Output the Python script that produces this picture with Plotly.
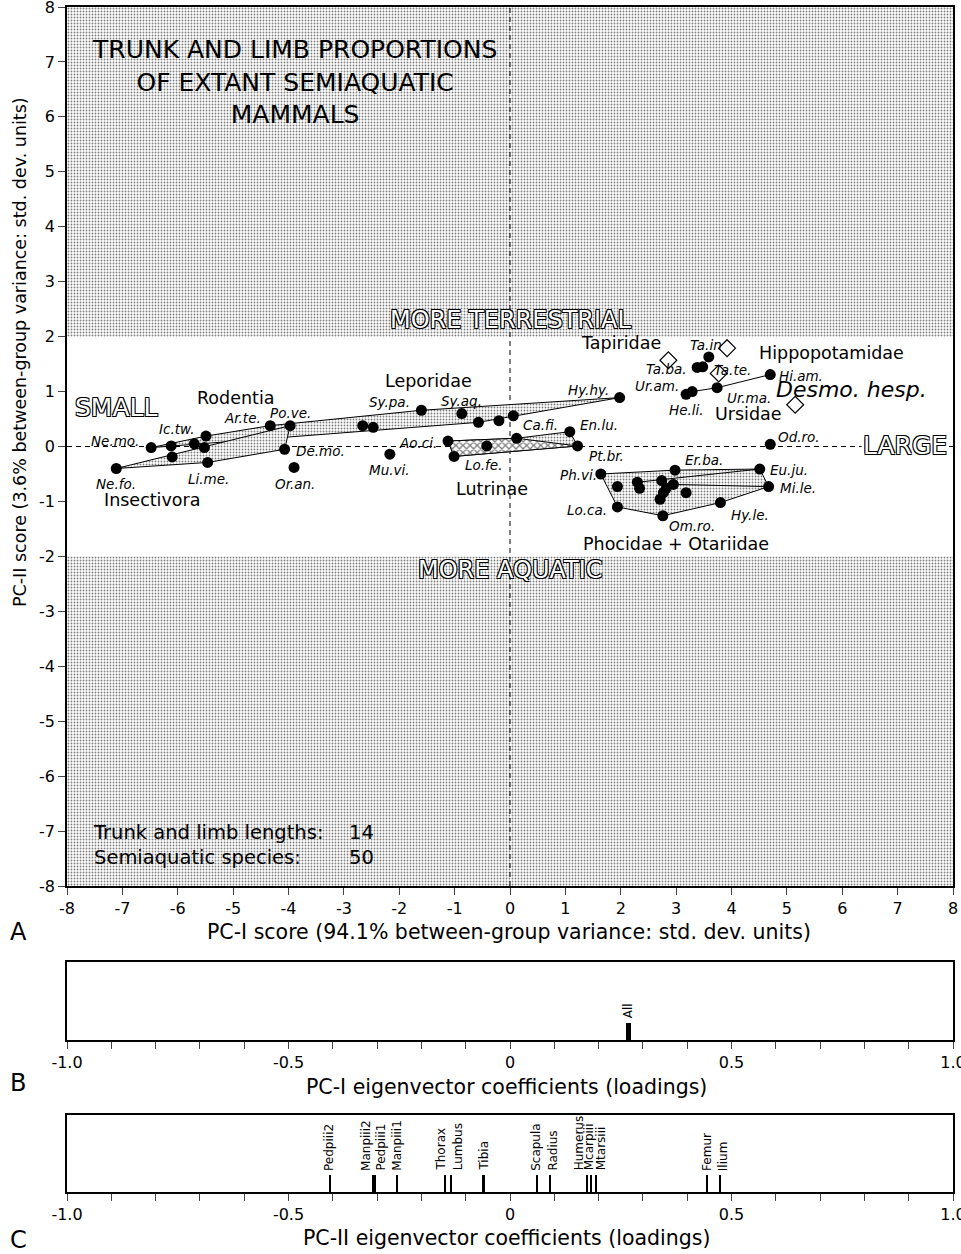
import plotly.graph_objects as go

# ---------------- data ----------------
# Panel A: extant species, PC-I and PC-II scores (std. dev. units)
sp_name = ["Ne.mo.", "Ne.fo.", "Ic.tw.", "", "", "", "", "Li.me.", "Ar.te.", "Po.ve.",
           "De.mo.", "Or.an.", "", "", "Sy.pa.", "Sy.aq.", "", "", "", "Hy.hy.",
           "Mu.vi.", "Ao.ci.", "Lo.fe.", "", "Ca.fi.", "En.lu.", "Pt.br.", "Ta.in", "Ta.ba.", "Ta.te.",
           "He.li.", "Ur.am.", "Ur.ma.", "Hi.am.", "Od.ro.", "Ph.vi.", "", "", "", "",
           "", "", "", "", "", "Er.ba.", "Eu.ju.", "Mi.le.", "Hy.le.", "Om.ro.", "Lo.ca."]
sp_x = [-6.48, -7.11, -6.12, -6.10, -5.70, -5.49, -5.52, -5.46, -4.33, -3.97,
        -4.07, -3.90, -2.66, -2.47, -1.60, -0.87, -0.57, -0.20, 0.06, 1.98,
        -2.17, -1.12, -1.01, -0.42, 0.12, 1.08, 1.22, 3.59, 3.38, 3.48,
        3.18, 3.29, 3.74, 4.70, 4.70, 1.64, 1.94, 2.30, 2.34, 2.74,
        2.95, 2.77, 2.82, 2.71, 3.18, 2.98, 4.51, 4.67, 3.80, 2.76, 1.94]
sp_y = [-0.02, -0.40, 0.01, -0.19, 0.05, 0.19, -0.02, -0.29, 0.38, 0.38,
        -0.05, -0.38, 0.38, 0.35, 0.66, 0.60, 0.44, 0.47, 0.56, 0.89,
        -0.14, 0.10, -0.18, 0.01, 0.15, 0.27, 0.01, 1.63, 1.44, 1.45,
        0.95, 1.00, 1.07, 1.31, 0.04, -0.50, -0.73, -0.65, -0.76, -0.62,
        -0.69, -0.84, -0.76, -0.96, -0.84, -0.43, -0.41, -0.73, -1.02, -1.26, -1.10]

# Desmostylus hesperus (fossil, open diamonds)
fos_x = [2.86, 3.92, 3.77, 5.15]
fos_y = [1.57, 1.79, 1.33, 0.76]

# Group outlines (indices into the species lists)
hull_insectivora = [1, 7, 10, 9, 1]
hull_rodent_lepor = [0, 5, 8, 14, 19, 18, 16, 0]
hull_lutrinae = [21, 24, 25, 26, 22, 21]
hull_lutrinae_core = [21, 24, 26, 22, 21]
hull_pinnipeds = [35, 45, 46, 47, 48, 49, 50, 35]
line_pinniped_inner = [[37, 46], [40, 47]]
line_tapiridae = [28, 29, 27]
line_ursidae = [30, 31, 32, 33]

group_labels = ["Insectivora", "Rodentia", "Leporidae", "Lutrinae", "Tapiridae",
                "Hippopotamidae", "Ursidae", "Phocidae + Otariidae"]
group_x = [-6.47, -4.94, -1.48, -0.33, 2.00, 5.80, 4.30, 3.00]
group_y = [-0.98, 0.89, 1.20, -0.78, 1.89, 1.71, 0.60, -1.78]

axis_ticks_A = list(range(-8, 9))
axis_ticktext_A = [str(v) for v in axis_ticks_A]

# Panel B: PC-I loadings
pc1_names = ["All"]
pc1_load = [0.267]

# Panel C: PC-II loadings
pc2_names = ["Pedpiii2", "Manpiii2", "Pedpiii1", "Manpiii1", "Thorax", "Lumbus", "Tibia",
             "Scapula", "Radius", "Humerus", "Mcarpiii", "Mtarsiii", "Femur", "Ilium"]
pc2_load = [-0.407, -0.310, -0.304, -0.254, -0.146, -0.133, -0.059,
            0.060, 0.090, 0.174, 0.183, 0.193, 0.445, 0.475]

load_tickvals = [round(-1 + 0.1 * i, 1) for i in range(21)]
load_ticktext = {-1.0: "-1.0", -0.5: "-0.5", 0.0: "0", 0.5: "0.5", 1.0: "1.0"}

# ---------------- styling ----------------
FONT = "DejaVu Sans"
label_shift = {  # pixel offsets of species labels from their points
    "Ne.mo.": (-36, 7), "Ne.fo.": (0, -16), "Ic.tw.": (5, 17), "Li.me.": (1, -17),
    "Ar.te.": (-28, 8), "Po.ve.": (0, 13), "De.mo.": (36, -2), "Or.an.": (1, -17),
    "Mu.vi.": (0, -16), "Sy.pa.": (-32, 8), "Sy.aq.": (0, 13), "Ao.ci.": (-30, -2),
    "Lo.fe.": (29, -9), "Ca.fi.": (24, 13), "En.lu.": (29, 7), "Pt.br.": (29, -10),
    "Hy.hy.": (-31, 8), "Ph.vi.": (-22, -1), "Lo.ca.": (-30, -3), "Om.ro.": (29, -10),
    "Hy.le.": (30, -12), "Mi.le.": (29, -1), "Eu.ju.": (29, -1), "Er.ba.": (29, 10),
    "Od.ro.": (29, 7), "Ta.in": (-3, 12), "Ta.ba.": (-31, -2), "Ta.te.": (30, -3),
    "Ur.am.": (-35, 6), "He.li.": (0, -16), "Ur.ma.": (32, -10), "Hi.am.": (31, -1),
}
pc2_label_shift = {"Manpiii2": -6, "Pedpiii1": 6, "Thorax": -4, "Lumbus": 7,
                   "Radius": 3, "Humerus": -8, "Mcarpiii": -2, "Mtarsiii": 5, "Ilium": 2}

stipple = dict(shape=".", size=3, solidity=0.3, fgcolor="black", bgcolor="white")
hatch = dict(shape="x", size=5, solidity=0.45, fgcolor="black", bgcolor="white")

fig = go.Figure()

# Shaded "more terrestrial" / "more aquatic" zones
for ylo, yhi in [(2, 8), (-8, -2)]:
    fig.add_trace(go.Scatter(x=[-8, 8, 8, -8, -8], y=[ylo, ylo, yhi, yhi, ylo],
                             mode="lines", fill="toself", fillpattern=stipple,
                             line=dict(width=0), hoverinfo="skip"))

# Dashed reference lines
fig.add_trace(go.Scatter(x=[0, 0], y=[-8, 8], mode="lines",
                         line=dict(color="black", width=1, dash="5px,4px"), hoverinfo="skip"))
fig.add_trace(go.Scatter(x=[-8, 8], y=[0, 0], mode="lines",
                         line=dict(color="black", width=1, dash="5px,4px"), hoverinfo="skip"))


def poly(idx, fill=None, pattern=None):
    xs = [sp_x[i] for i in idx]
    ys = [sp_y[i] for i in idx]
    kw = dict(x=xs, y=ys, mode="lines", line=dict(color="black", width=1), hoverinfo="skip")
    if fill:
        kw.update(fill="toself", fillpattern=pattern)
    fig.add_trace(go.Scatter(**kw))


poly(hull_rodent_lepor, True, stipple)
poly(hull_insectivora, True, stipple)
poly(hull_lutrinae, True, stipple)
poly(hull_lutrinae_core, True, hatch)
poly(hull_pinnipeds, True, stipple)
for seg in line_pinniped_inner:
    poly(seg)
poly(line_tapiridae)
poly(line_ursidae)

# Species points
fig.add_trace(go.Scatter(x=sp_x, y=sp_y, mode="markers",
                         marker=dict(color="black", size=11), hoverinfo="skip"))
# Fossil
fig.add_trace(go.Scatter(x=fos_x, y=fos_y, mode="markers",
                         marker=dict(symbol="diamond-open", color="black", size=13,
                                     line=dict(width=1.2)), hoverinfo="skip"))

# Panel B bar
fig.add_trace(go.Bar(x=pc1_load, y=[0.22] * len(pc1_load), width=0.011,
                     marker=dict(color="black", line=dict(width=0)),
                     xaxis="x2", yaxis="y2", hoverinfo="skip"))
# Panel C bars
fig.add_trace(go.Bar(x=pc2_load, y=[0.22] * len(pc2_load), width=0.0045,
                     marker=dict(color="black", line=dict(width=0)),
                     xaxis="x3", yaxis="y3", hoverinfo="skip"))

ann = []
# Species labels
for n, x, y in zip(sp_name, sp_x, sp_y):
    if n:
        dx, dy = label_shift.get(n, (0, 0))
        ann.append(dict(x=x, y=y, text=n, xshift=dx, yshift=dy, showarrow=False,
                        xanchor="center", yanchor="middle",
                        font=dict(family=FONT, size=13.5, color="black", style="italic")))
# Group labels
for t, x, y in zip(group_labels, group_x, group_y):
    ann.append(dict(x=x, y=y, text=t, showarrow=False, xanchor="center",
                    font=dict(family=FONT, size=17.5, color="black")))
ann.append(dict(x=6.17, y=1.04, text="Desmo. hesp.", showarrow=False, xanchor="center",
                font=dict(family=FONT, size=22, color="black", style="italic")))

outline = "-1px -1px 0 #000, 1px -1px 0 #000, -1px 1px 0 #000, 1px 1px 0 #000"
for t, x, y, size, bg in [("MORE TERRESTRIAL", 0, 2.31, 24, None),
                           ("MORE AQUATIC", 0, -2.25, 24, None),
                           ("SMALL", -7.11, 0.71, 25, None),
                           ("LARGE", 7.14, 0.02, 25, "white")]:
    a = dict(x=x, y=y, text=t, showarrow=False, xanchor="center",
             font=dict(family=FONT, size=size, color="white", shadow=outline))
    if bg:
        a["bgcolor"] = bg
    ann.append(a)

ann.append(dict(x=-3.90, y=6.64, text="TRUNK AND LIMB PROPORTIONS<br>OF EXTANT SEMIAQUATIC<br>MAMMALS",
                showarrow=False, align="center", xanchor="center",
                font=dict(family=FONT, size=25, color="black")))
ann.append(dict(x=-7.56, y=-7.26, xanchor="left",
                text="Trunk and limb lengths:<br>Semiaquatic species:", align="left",
                showarrow=False, font=dict(family=FONT, size=19.5, color="black")))
ann.append(dict(x=-2.95, y=-7.26, xanchor="left", text="14<br>50", align="left",
                showarrow=False, font=dict(family=FONT, size=19.5, color="black")))

# Loading labels
ann.append(dict(x=pc1_load[0], y=0.25, xref="x2", yref="y2", text=pc1_names[0],
                textangle=-90, yanchor="bottom", xanchor="center", showarrow=False,
                font=dict(family=FONT, size=12, color="black")))
for n, v in zip(pc2_names, pc2_load):
    ann.append(dict(x=v, y=0.25, xref="x3", yref="y3", text=n, textangle=-90,
                    yanchor="bottom", xanchor="center", xshift=pc2_label_shift.get(n, 0),
                    showarrow=False, font=dict(family=FONT, size=12, color="black")))

# Axis titles and panel letters
ttl = dict(family=FONT, size=20.5, color="black")
ann += [
    dict(xref="paper", yref="paper", x=0.4989, y=0.2194, xanchor="center", yanchor="middle",
         text="PC-I score (94.1% between-group variance: std. dev. units)", showarrow=False, font=ttl),
    dict(xref="paper", yref="paper", x=-0.0530, y=0.7089, xanchor="center", yanchor="middle",
         textangle=-90, text="PC-II score (3.6% between-group variance: std. dev. units)",
         showarrow=False, font=dict(family=FONT, size=17.5, color="black")),
    dict(xref="paper", yref="paper", x=0.4966, y=0.0886, xanchor="center", yanchor="middle",
         text="PC-I eigenvector coefficients (loadings)", showarrow=False, font=ttl),
    dict(xref="paper", yref="paper", x=0.4966, y=-0.0388, xanchor="center", yanchor="middle",
         text="PC-II eigenvector coefficients (loadings)", showarrow=False, font=ttl),
]
for letter, yp in [("A", 0.2194), ("B", 0.092), ("C", -0.0405)]:
    ann.append(dict(xref="paper", yref="paper", x=-0.0553, y=yp, xanchor="center",
                    yanchor="middle", text=letter, showarrow=False,
                    font=dict(family=FONT, size=24, color="black")))

axA = dict(range=[-8, 8], tickvals=axis_ticks_A, ticktext=axis_ticktext_A,
           ticks="outside", ticklen=7, tickwidth=1, automargin=False, ticklabeloverflow="allow",
           showline=True, linecolor="black", linewidth=1.5, mirror=True,
           showgrid=False, zeroline=False, tickfont=dict(family=FONT, size=16, color="black"))
axL = dict(range=[-1, 1], tickvals=load_tickvals,
           ticktext=[load_ticktext.get(v, "") for v in load_tickvals],
           ticks="outside", ticklen=7, tickwidth=1, automargin=False, ticklabeloverflow="allow",
           showline=True, linecolor="black", linewidth=1.5, mirror=True,
           showgrid=False, zeroline=False, tickfont=dict(family=FONT, size=16, color="black"))
axLy = dict(range=[0, 1], showticklabels=False, ticks="", showline=True, linecolor="black",
            linewidth=1.5, mirror=True, showgrid=False, zeroline=False, automargin=False)

fig.update_layout(
    width=961, height=1254,
    margin=dict(l=67, r=8, t=7, b=62),
    paper_bgcolor="white", plot_bgcolor="white",
    showlegend=False, bargap=0,
    xaxis=dict(axA, domain=[0, 1], anchor="y"),
    yaxis=dict(axA, domain=[0.2582, 1], anchor="x"),
    xaxis2=dict(axL, domain=[0, 1], anchor="y2"),
    yaxis2=dict(axLy, domain=[0.1283, 0.1941], anchor="x2"),
    xaxis3=dict(axL, domain=[0, 1], anchor="y3"),
    yaxis3=dict(axLy, domain=[0, 0.065], anchor="x3"),
    annotations=ann,
)

fig.write_html("out.html", config={"displayModeBar": False},
               post_script="document.body.style.margin='0';")
